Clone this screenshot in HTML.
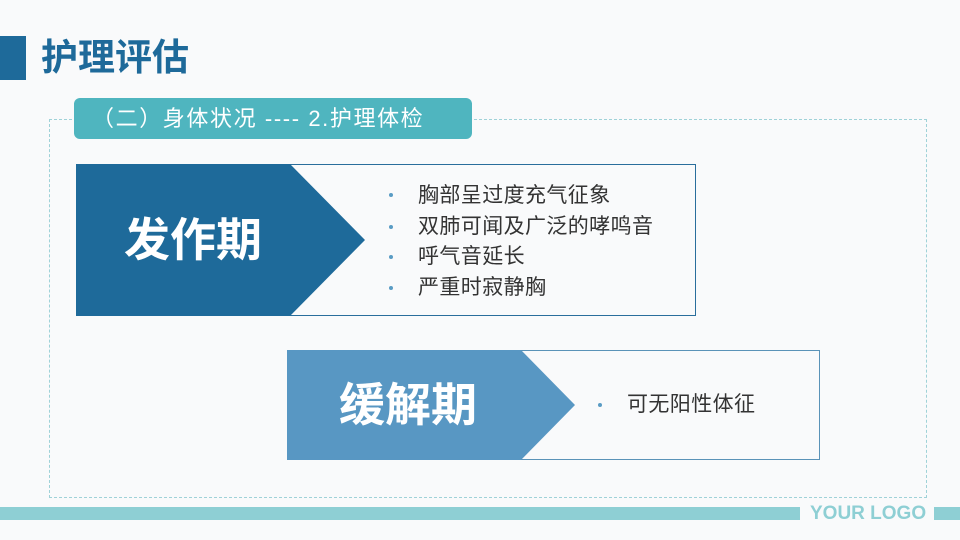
<!DOCTYPE html>
<html><head><meta charset="utf-8"><style>
body{margin:0;width:960px;height:540px;background:#f9fafb;position:relative;overflow:hidden;font-family:"Liberation Sans","Noto Sans CJK SC",sans-serif}
.a{position:absolute}
.li{position:absolute;font-size:21px;color:#333;white-space:nowrap;line-height:1;letter-spacing:0.4px}
.dot{position:absolute;width:4px;height:4px;border-radius:50%;background:#5a9cc4}
</style></head><body>
<div class="a" style="left:0;top:36px;width:26px;height:44px;background:#1e6a9a"></div>
<div class="a" style="left:41px;top:36px;font-size:37px;font-weight:bold;color:#1e6a9a;line-height:44px;white-space:nowrap">护理评估</div>
<div class="a" style="left:49px;top:119px;width:876px;height:377px;border:1px dashed #9fd2d8"></div>
<div class="a" style="left:74px;top:98px;width:398px;height:41px;background:#4fb5bf;border-radius:6px"></div>
<div class="a" style="left:92px;top:98px;line-height:41px;font-size:22px;letter-spacing:1.6px;color:#fff;white-space:nowrap">（二）身体状况 ---- 2.护理体检</div>

<div class="a" style="left:76px;top:164px;width:618px;height:150px;border:1px solid #2a6e9c;background:#f9fafb"></div>
<svg class="a" style="left:76px;top:164px" width="290" height="152"><polygon points="0,0 214,0 289,76 214,152 0,152" fill="#1e6a9a"/></svg>
<div class="a" style="left:124px;top:212px;font-size:46px;font-weight:bold;color:#fff;line-height:56px;white-space:nowrap">发作期</div>
<div class="dot" style="left:389px;top:193px"></div><div class="li" style="left:418px;top:185px">胸部呈过度充气征象</div>
<div class="dot" style="left:389px;top:225px"></div><div class="li" style="left:418px;top:216px">双肺可闻及广泛的哮鸣音</div>
<div class="dot" style="left:389px;top:255px"></div><div class="li" style="left:418px;top:246px">呼气音延长</div>
<div class="dot" style="left:389px;top:286px"></div><div class="li" style="left:418px;top:277px">严重时寂静胸</div>

<div class="a" style="left:287px;top:350px;width:531px;height:108px;border:1px solid #5a93b8;background:#f9fafb"></div>
<svg class="a" style="left:287px;top:350px" width="290" height="110"><polygon points="0,0 234,0 288,55 234,110 0,110" fill="#5897c3"/></svg>
<div class="a" style="left:339px;top:377px;font-size:46px;font-weight:bold;color:#fff;line-height:56px;white-space:nowrap">缓解期</div>
<div class="dot" style="left:598px;top:403px"></div><div class="li" style="left:627px;top:394px">可无阳性体征</div>

<div class="a" style="left:0;top:507px;width:800px;height:13px;background:#8ecfd4"></div>
<div class="a" style="left:810px;top:503px;font-size:19px;font-weight:bold;color:#8ecfd4;line-height:22px;white-space:nowrap">YOUR LOGO</div>
<div class="a" style="left:934px;top:507px;width:26px;height:13px;background:#8ecfd4"></div>
</body></html>
